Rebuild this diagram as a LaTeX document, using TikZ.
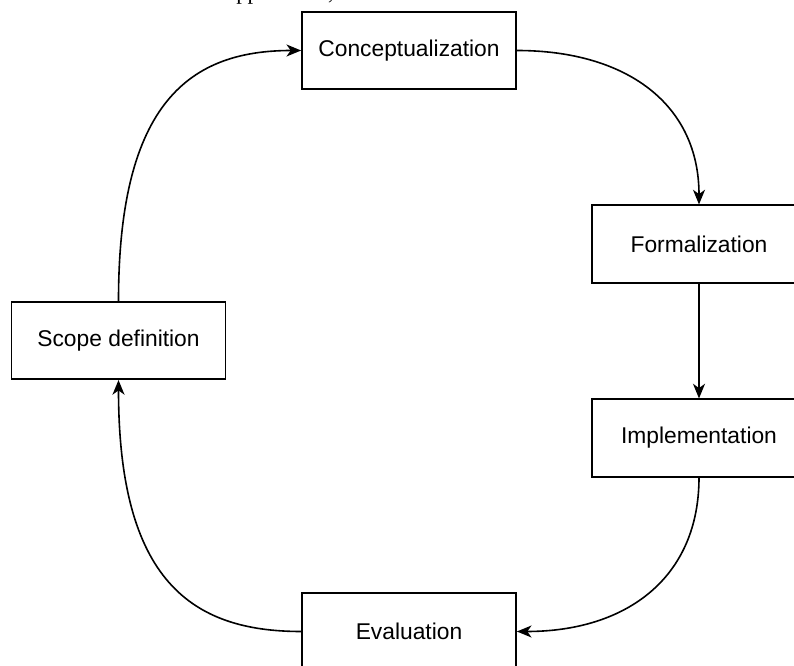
\documentclass[tikz,border=0pt]{standalone}
\usepackage{fontspec}
\setmainfont{Liberation Sans}
\newfontfamily\bodyserif{Liberation Serif}
\usetikzlibrary{arrows.meta}

\tikzset{
  stage/.style={draw=black, line width=1.3pt, fill=white,
    minimum width=160.5pt, minimum height=58pt, inner sep=0pt,
    font=\fontsize{17.1}{20}\selectfont},
  flow/.style={line width=1.2pt,
    -{Stealth[length=11pt,width=9pt,inset=3.2pt]}},
}

\begin{document}
\begin{tikzpicture}[x=0.75pt, y=-0.75pt]
  % page frame; the boxes at the right and bottom run past it
  \useasboundingbox (0,0) rectangle (794,666);
  \clip (0,0) rectangle (794,666);

  % last line of the running text above the figure
  \node[anchor=base west, inner sep=0pt,
        font=\bodyserif\fontsize{17}{20}\selectfont] (runtext) at (226,0) {approaches,};

  % stages of the cycle
  \node[stage] (concept) at (409,50.5)  {Conceptualization};
  \node[stage] (formal)  at (699,244)   {Formalization};
  \node[stage] (impl)    at (699,438)   {Implementation};
  \node[stage] (eval)    at (409,631.5) {Evaluation};
  \node[stage] (scope)   at (118.5,340.5) {Scope definition};

  % transitions
  \draw[flow] (scope.north) .. controls +(0,-200) and +(-110,0) .. (concept.west);
  \draw[flow] (concept.east) .. controls +(110,0) and +(0,-100) .. (formal.north);
  \draw[flow] (formal.south) -- (impl.north);
  \draw[flow] (impl.south) .. controls +(0,100) and +(110,0) .. (eval.east);
  \draw[flow] (eval.west) .. controls +(-110,0) and +(0,200) .. (scope.south);
\end{tikzpicture}
\end{document}
